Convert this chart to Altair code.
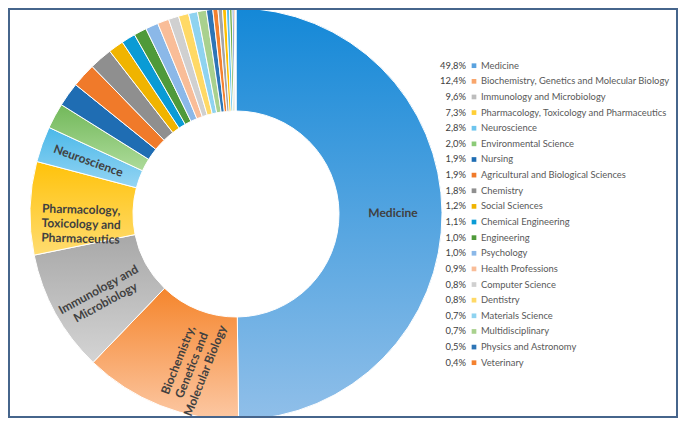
import altair as alt
import pandas as pd

categories = [
    "Medicine", "Biochemistry, Genetics and Molecular Biology", "Immunology and Microbiology",
    "Pharmacology, Toxicology and Pharmaceutics", "Neuroscience", "Environmental Science",
    "Nursing", "Agricultural and Biological Sciences", "Chemistry", "Social Sciences",
    "Chemical Engineering", "Engineering", "Psychology", "Health Professions",
    "Computer Science", "Dentistry", "Materials Science", "Multidisciplinary",
    "Physics and Astronomy", "Veterinary",
    "Other 1", "Other 2", "Other 3", "Other 4", "Other 5", "Other 6", "Other 7",
]
values = [49.8, 12.4, 9.6, 7.3, 2.8, 2.0, 1.9, 1.9, 1.8, 1.2, 1.1, 1.0, 1.0, 0.9,
          0.8, 0.8, 0.7, 0.7, 0.5, 0.4,
          0.35, 0.3, 0.25, 0.2, 0.15, 0.1, 0.05]
pct_labels = ["49,8%", "12,4%", "9,6%", "7,3%", "2,8%", "2,0%", "1,9%", "1,9%", "1,8%",
              "1,2%", "1,1%", "1,0%", "1,0%", "0,9%", "0,8%", "0,8%", "0,7%", "0,7%",
              "0,5%", "0,4%"]
slice_labels = ["Medicine", "Biochemistry,|Genetics and|Molecular Biology",
                "Immunology and|Microbiology", "Pharmacology,|Toxicology and|Pharmaceutics",
                "Neuroscience"]
colors = [
    "#5aa2df", "#f9a66c", "#bdbdbd", "#ffcf36", "#6ec5ee", "#8ccb78",
    "#1f6db3", "#f07a2a", "#8f8f8f", "#f0b400", "#0a9bd5", "#4f9a3a",
    "#8bb8e8", "#f9bd98", "#d0d0d0", "#ffd966", "#8fd3f0", "#a9d18e",
    "#2e75b6", "#f4812f",
    "#a5a5a5", "#ffc000", "#5bc0eb", "#70ad47", "#4472c4", "#ed7d31", "#d9d9d9",
]
# vertical shading (top colour, bottom colour) of the largest slices
shade_top = ["#1488d7", "#f5852c", "#a8a8a8", "#ffc20a", "#4bb8e9", "#72b85a"]
shade_bottom = ["#90bfe9", "#fcc8a4", "#d4d4d4", "#ffdc70", "#95d5f3", "#addb9a"]

n = len(categories)
df = pd.DataFrame({"category": categories, "value": values, "idx": list(range(n))})
total = df["value"].sum()
cum = df["value"].cumsum()
mid = (cum - df["value"] / 2) / total * 360
df["angle"] = [((m - 90) if m < 180 else (m - 270)) % 360 for m in mid]
df["label"] = slice_labels + [""] * (n - len(slice_labels))
df["label_c"] = [l if i != 3 else "" for i, l in enumerate(df["label"])]
df["label_l"] = [l if i == 3 else "" for i, l in enumerate(df["label"])]

leg = df.iloc[:len(pct_labels)].copy()
leg["pct"] = pct_labels

color_scale = alt.Scale(domain=categories, range=colors)
cx, cy = 228, 206

conditions = []
for i in range(len(shade_top)):
    conditions.append({
        "test": f"datum.idx === {i}",
        "value": {
            "gradient": "linear", "x1": 0, "y1": 0, "x2": 0, "y2": 1,
            "stops": [{"offset": 0, "color": shade_top[i]},
                      {"offset": 1, "color": shade_bottom[i]}],
        },
    })

arc = alt.Chart(df).mark_arc(innerRadius=103, outerRadius=206, stroke="white", strokeWidth=1).encode(
    theta=alt.Theta("value:Q", stack=True),
    color=alt.Color("category:N", scale=color_scale, legend=None, condition=conditions),
    order=alt.Order("idx:Q"),
    x=alt.value(cx), y=alt.value(cy),
)

label_style = dict(radius=157, font="Lato", fontWeight="bold", fontSize=12, color="#404040",
                   lineBreak="|", baseline="middle", lineHeight=14.5)

labels_c = alt.Chart(df).mark_text(align="center", **label_style).encode(
    theta=alt.Theta("value:Q", stack=True),
    detail="category:N",
    order=alt.Order("idx:Q"),
    text="label_c:N",
    angle=alt.Angle("angle:Q", scale=None),
    x=alt.value(cx), y=alt.value(cy),
)
labels_l = alt.Chart(df).mark_text(align="left", dx=-37, **label_style).encode(
    theta=alt.Theta("value:Q", stack=True),
    detail="category:N",
    order=alt.Order("idx:Q"),
    text="label_l:N",
    angle=alt.Angle("angle:Q", scale=None),
    x=alt.value(cx), y=alt.value(cy),
)

yscale = alt.Scale(domain=[0, 19], range=[57.7, 354.7])

leg_pct = alt.Chart(leg).mark_text(
    font="Lato", fontSize=9.4, color="#404040", align="right", baseline="middle"
).encode(
    y=alt.Y("idx:Q", scale=yscale, axis=None),
    x=alt.value(458),
    text="pct:N",
)
leg_sq = alt.Chart(leg).mark_square(size=22, opacity=1).encode(
    y=alt.Y("idx:Q", scale=yscale, axis=None),
    x=alt.value(466),
    color=alt.Color("category:N", scale=color_scale, legend=None),
)
leg_txt = alt.Chart(leg).mark_text(
    font="Lato", fontSize=9.4, color="#595959", align="left", baseline="middle"
).encode(
    y=alt.Y("idx:Q", scale=yscale, axis=None),
    x=alt.value(473),
    text="category:N",
)

frame = alt.Chart(pd.DataFrame({"a": [0]})).mark_rect(
    filled=False, stroke="#46658c", strokeWidth=2
).encode(x=alt.value(1), x2=alt.value(669), y=alt.value(1), y2=alt.value(409))

chart = alt.layer(arc, labels_c, labels_l, leg_pct, leg_sq, leg_txt, frame).properties(
    width=670, height=410, padding=0, autosize=alt.AutoSizeParams(type="none")
).configure_view(strokeWidth=0)

chart.save("out.html", embed_options={"renderer": "svg", "actions": False})
